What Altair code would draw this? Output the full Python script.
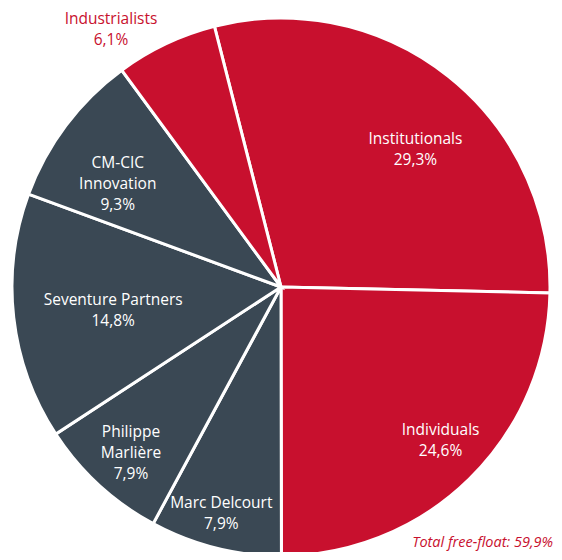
import altair as alt
import pandas as pd
import math

categories = ["Institutionals", "Individuals", "Marc Delcourt", "Philippe Marlière",
              "Seventure Partners", "CM-CIC Innovation", "Industrialists"]
label_lines = [["Institutionals", "29,3%"], ["Individuals", "24,6%"], ["Marc Delcourt", "7,9%"],
               ["Philippe", "Marlière", "7,9%"], ["Seventure Partners", "14,8%"],
               ["CM-CIC", "Innovation", "9,3%"], ["Industrialists", "6,1%"]]
values = [29.3, 24.6, 7.9, 7.9, 14.8, 9.3, 6.1]
groups = ["free", "free", "other", "other", "other", "other", "free"]

df = pd.DataFrame({
    "cat": categories,
    "val": values,
    "grp": groups,
    "order": list(range(len(categories))),
    "lbl": label_lines,
})

total_val = sum(values)
start = -0.25
theta_scale = alt.Scale(domain=[0, total_val], range=[start, 2 * math.pi + start])
color_scale = alt.Scale(domain=["free", "other"], range=["#C8102E", "#3A4854"])

pie = alt.Chart(df).mark_arc(outerRadius=269, stroke="white", strokeWidth=3).encode(
    theta=alt.Theta("val:Q", stack=True, scale=theta_scale),
    order=alt.Order("order:Q"),
    color=alt.Color("grp:N", scale=color_scale, legend=None),
    x=alt.value(273),
    y=alt.value(279),
)

lbase = alt.Chart(df).transform_window(
    cum="sum(val)", sort=[alt.SortField("order")]
).transform_calculate(
    mid="datum.cum - datum.val / 2"
).encode(
    theta=alt.Theta("mid:Q", scale=theta_scale),
    x=alt.value(273),
    y=alt.value(279),
)

LH = 21
txt = dict(font="Open Sans", fontSize=15.5, lineHeight=LH, baseline="middle")


def label(name, r, nlines, color="white", dx=0, extra_dy=0):
    return lbase.transform_filter(f"datum.cat == '{name}'").mark_text(
        color=color, dx=dx, dy=-(nlines - 1) * LH / 2 + extra_dy, **txt
    ).encode(text="lbl", radius=alt.value(r))


layers = [
    pie,
    label("Institutionals", 184, 2, dx=20, extra_dy=7),
    label("Seventure Partners", 184, 2, dx=15, extra_dy=3),
    label("Individuals", 228, 2, extra_dy=-9),
    label("Marc Delcourt", 228, 2, dx=-4, extra_dy=5),
    label("Philippe Marlière", 226, 3, dx=3),
    label("CM-CIC Innovation", 193, 3, dx=-9, extra_dy=13),
    label("Industrialists", 290, 2, color="#C8102E", dx=-46, extra_dy=5),
]

total = alt.Chart(pd.DataFrame({"t": ["Total free-float: 59,9%"]})).mark_text(
    font="Open Sans", fontSize=14.5, fontStyle="italic", color="#C8102E", align="right"
).encode(text="t:N", x=alt.value(545), y=alt.value(535))

chart = alt.layer(*layers, total).properties(
    width=546, height=544, padding=0, autosize="none"
).configure_view(stroke=None)

chart.save("out.html", embed_options={"renderer": "svg", "actions": False})
